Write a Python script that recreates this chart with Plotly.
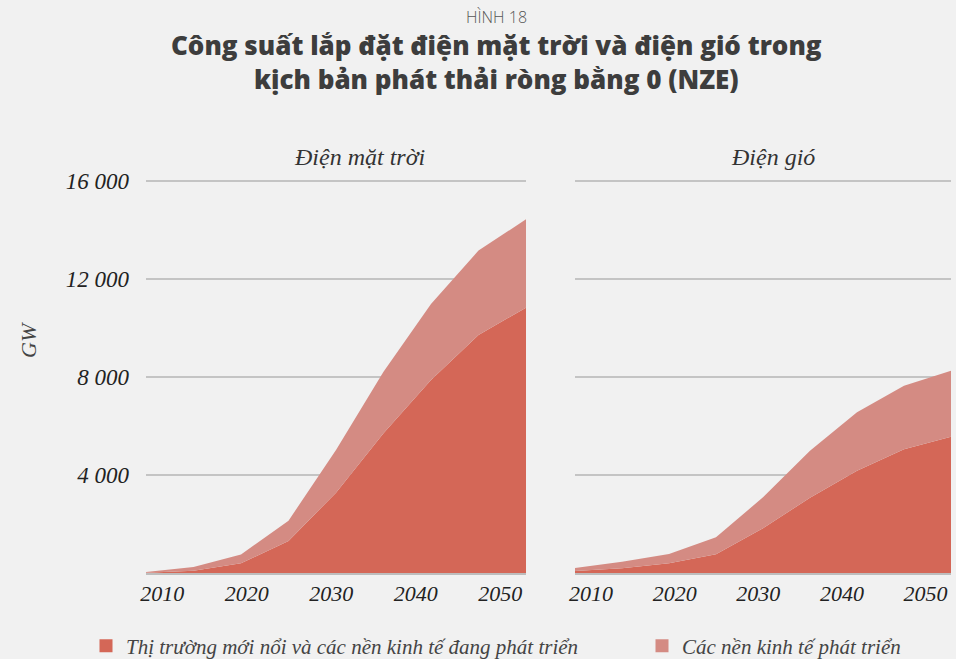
import plotly.graph_objects as go

years = [2010, 2015, 2020, 2025, 2030, 2035, 2040, 2045, 2050]

# GW, stacked components
solar_emerging = [10, 95, 395, 1306, 3280, 5700, 7880, 9715, 10830]
solar_total = [40, 240, 760, 2136, 5020, 8218, 10980, 13160, 14435]
solar_developed = [t - e for t, e in zip(solar_total, solar_emerging)]

wind_emerging = [80, 190, 395, 762, 1823, 3075, 4177, 5047, 5565]
wind_total = [200, 460, 775, 1456, 3090, 4993, 6558, 7646, 8258]
wind_developed = [t - e for t, e in zip(wind_total, wind_emerging)]

series_names = ["Thị trường mới nổi và các nền kinh tế đang phát triển",
                "Các nền kinh tế phát triển"]
panel_titles = ["Điện mặt trời", "Điện gió"]
title_text = "Công suất lắp đặt điện mặt trời và điện gió trong<br>kịch bản phát thải ròng bằng 0 (NZE)"
x_ticks = [2010, 2020, 2030, 2040, 2050]
y_ticks = [0, 4000, 8000, 12000, 16000]
y_ticktext = ["", "4 000", "8 000", "12 000", "16 000"]

# the reference's year labels sit inset from the panel edges, evenly spaced
x_tickpos = [2011.7 + (v - 2010) * 0.89 for v in x_ticks]

C_EM = "#D46757"
C_DEV = "#D48B83"
BG = "#F1F1F1"
SERIF = "Liberation Serif, DejaVu Serif, serif"
SANS = "Open Sans, Lato, sans-serif"
W, H = 956, 659
Y_TOP = 16080  # a little headroom so the 16 000 gridline is drawn

fig = go.Figure()

def add_area(x, y, color, xa, ya, group):
    fig.add_trace(go.Scatter(
        x=x, y=y, mode="none", stackgroup=group, fill="tonexty",
        fillcolor=color, line=dict(width=0), showlegend=False,
        xaxis=xa, yaxis=ya, hoverinfo="skip"))

add_area(years, solar_emerging, C_EM, "x", "y", "solar")
add_area(years, solar_developed, C_DEV, "x", "y", "solar")
add_area(years, wind_emerging, C_EM, "x2", "y2", "wind")
add_area(years, wind_developed, C_DEV, "x2", "y2", "wind")

# legend entries, one legend box each
for name, color, lg in zip(series_names, [C_EM, C_DEV], ["legend", "legend2"]):
    fig.add_trace(go.Scatter(
        x=[None], y=[None], mode="markers", name=name, legend=lg,
        marker=dict(symbol="square", size=13, color=color),
        xaxis="x", yaxis="y"))

xaxis_common = dict(
    range=[2010, 2050], tickvals=x_tickpos, ticktext=[str(v) for v in x_ticks],
    showgrid=False, zeroline=False, showline=True, linecolor="#bdbdbd",
    linewidth=2, ticks="", tickfont=dict(family=SERIF, size=22, color="#222", style="italic"),
    fixedrange=True)
yaxis_common = dict(
    range=[0, Y_TOP], tickvals=y_ticks, ticktext=y_ticktext,
    showgrid=True, gridcolor="#c4c4c4", gridwidth=1.5, zeroline=False,
    ticks="", fixedrange=True)

legend_common = dict(orientation="h", y=13/H, xanchor="left", yanchor="middle",
                     font=dict(family=SERIF, size=21, color="#444", style="italic"),
                     bgcolor="rgba(0,0,0,0)", itemwidth=30)

def ann(text, x, y, font, **kw):
    return dict(text=text, x=x/W, y=1 - y/H, xref="paper", yref="paper",
                xanchor="center", yanchor="middle", showarrow=False, font=font, **kw)

y_dom_top = 573 - 392 * Y_TOP / 16000

fig.update_layout(
    width=W, height=H,
    paper_bgcolor=BG, plot_bgcolor=BG,
    margin=dict(l=0, r=0, t=0, b=0, autoexpand=False),
    xaxis=dict(domain=[146/W, 526/W], anchor="y", **xaxis_common),
    xaxis2=dict(domain=[575/W, 951/W], anchor="y2", **xaxis_common),
    yaxis=dict(domain=[86/H, 1 - y_dom_top/H], anchor="x",
               tickfont=dict(family=SERIF, size=23, color="#222", style="italic"),
               ticklabelstandoff=16, **yaxis_common),
    yaxis2=dict(domain=[86/H, 1 - y_dom_top/H], anchor="x2", showticklabels=False,
                **yaxis_common),
    showlegend=True,
    legend=dict(x=86/W, **legend_common),
    legend2=dict(x=642/W, **legend_common),
    annotations=[
        ann("HÌNH 18", 496, 17, dict(family=SANS, size=16, color="#555", weight=300)),
        ann(title_text, 496, 62, dict(family=SANS, size=26, color="#3d3d3d", weight=800)),
        ann(panel_titles[0], 359, 157, dict(family=SERIF, size=24, color="#333", style="italic")),
        ann(panel_titles[1], 773, 157, dict(family=SERIF, size=24, color="#333", style="italic")),
        ann("GW", 28, 340, dict(family=SERIF, size=22, color="#444", style="italic"),
            textangle=-90),
    ],
)

fig.write_html("out.html", config={"displayModeBar": False},
               post_script="document.body.style.margin='0';document.body.style.background='#F1F1F1';")
